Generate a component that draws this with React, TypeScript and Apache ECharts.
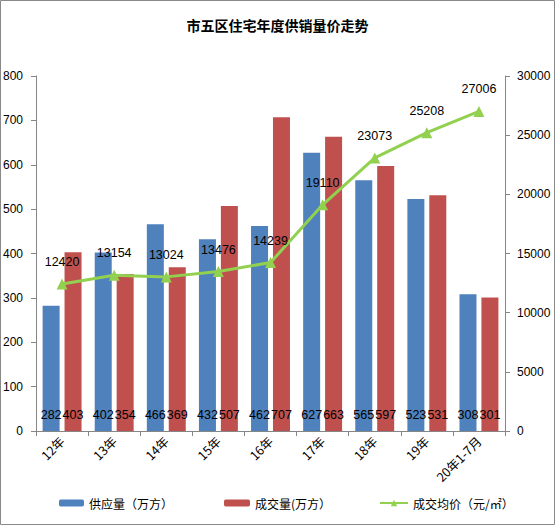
import React, { useEffect, useRef } from "react";
import * as echarts from "echarts";

const categories = ["12年", "13年", "14年", "15年", "16年", "17年", "18年", "19年", "20年1-7月"];
const supply = [282, 402, 466, 432, 462, 627, 565, 523, 308];
const deal = [403, 354, 369, 507, 707, 663, 597, 531, 301];
const price = [12420, 13154, 13024, 13476, 14239, 19110, 23073, 25208, 27006];
const leftTicks = { min: 0, max: 800, interval: 100 };
const rightTicks = { min: 0, max: 30000, interval: 5000 };

const NUM_FONT = "'Liberation Sans', Arial, sans-serif";
const CJK_FONT = "'Noto Sans CJK SC', 'Noto Sans', sans-serif";
const AXIS_COLOR = "#868686";

export default function App() {
  const ref = useRef<HTMLDivElement>(null);
  useEffect(() => {
    if (!ref.current) return;
    const chart = echarts.init(ref.current, null, { renderer: "svg" });
    chart.setOption({
      animation: false,
      backgroundColor: "#fff",
      title: {
        text: "市五区住宅年度供销量价走势",
        left: "center",
        top: 13,
        textStyle: { fontFamily: CJK_FONT, fontSize: 14, fontWeight: "bold", color: "#000" },
      },
      graphic: [
        {
          type: "rect",
          shape: { x: 0.5, y: 0.5, width: 554, height: 524 },
          style: { fill: "none", stroke: "#898989", lineWidth: 1 },
          silent: true,
        },
      ],
      legend: [
        {
          data: ["供应量（万方）"],
          left: 54,
          top: 492,
          itemWidth: 25,
          itemHeight: 7,
          itemGap: 4,
          textStyle: { fontFamily: CJK_FONT, fontSize: 12, color: "#000" },
        },
        {
          data: ["成交量(万方）"],
          left: 219,
          top: 492,
          itemWidth: 26,
          itemHeight: 7,
          textStyle: { fontFamily: CJK_FONT, fontSize: 12, color: "#000" },
        },
        {
          data: ["成交均价（元/㎡）"],
          left: 374,
          top: 492,
          itemWidth: 28,
          itemHeight: 8,
          textStyle: { fontFamily: CJK_FONT, fontSize: 12, color: "#000" },
        },
      ],
      grid: { left: 35, right: 50, top: 76, bottom: 94 },
      xAxis: {
        type: "category",
        data: categories,
        boundaryGap: true,
        axisLine: { lineStyle: { color: AXIS_COLOR } },
        axisTick: { show: true, length: 5, lineStyle: { color: AXIS_COLOR } },
        axisLabel: {
          rotate: 45,
          margin: 8,
          interval: 0,
          color: "#000",
          fontFamily: CJK_FONT,
          fontSize: 12.5,
        },
      },
      yAxis: [
        {
          type: "value",
          min: leftTicks.min,
          max: leftTicks.max,
          interval: leftTicks.interval,
          splitLine: { show: false },
          axisLine: { show: true, lineStyle: { color: AXIS_COLOR } },
          axisTick: { show: true, length: 5, lineStyle: { color: AXIS_COLOR } },
          axisLabel: { margin: 13, color: "#000", fontFamily: NUM_FONT, fontSize: 12 },
        },
        {
          type: "value",
          min: rightTicks.min,
          max: rightTicks.max,
          interval: rightTicks.interval,
          position: "right",
          splitLine: { show: false },
          axisLine: { show: true, lineStyle: { color: AXIS_COLOR } },
          axisTick: { show: true, length: 5, lineStyle: { color: AXIS_COLOR } },
          axisLabel: {
            margin: 12,
            color: "#000",
            fontFamily: NUM_FONT,
            fontSize: 12,
            formatter: (v: number) => String(v),
          },
        },
      ],
      series: [
        {
          name: "供应量（万方）",
          type: "bar",
          data: supply,
          barWidth: 17,
          barGap: "29%",
          itemStyle: { color: "#4F81BD" },
          label: {
            show: true,
            position: "insideBottom",
            distance: 10,
            color: "#000",
            fontFamily: NUM_FONT,
            fontSize: 12.5,
          },
        },
        {
          name: "成交量(万方）",
          type: "bar",
          data: deal,
          barWidth: 17,
          itemStyle: { color: "#C0504D" },
          label: {
            show: true,
            position: "insideBottom",
            distance: 10,
            color: "#000",
            fontFamily: NUM_FONT,
            fontSize: 12.5,
          },
        },
        {
          name: "成交均价（元/㎡）",
          type: "line",
          yAxisIndex: 1,
          data: price,
          symbol: "triangle",
          symbolSize: 11,
          lineStyle: { color: "#92D050", width: 3 },
          itemStyle: { color: "#92D050" },
          label: {
            show: true,
            position: "top",
            distance: 10,
            color: "#000",
            fontFamily: NUM_FONT,
            fontSize: 12.5,
          },
          z: 5,
        },
      ],
    });
    return () => chart.dispose();
  }, []);
  return (
    <div
      ref={ref}
      style={{ position: "absolute", left: 0, top: 0, width: 555, height: 525 }}
    />
  );
}
